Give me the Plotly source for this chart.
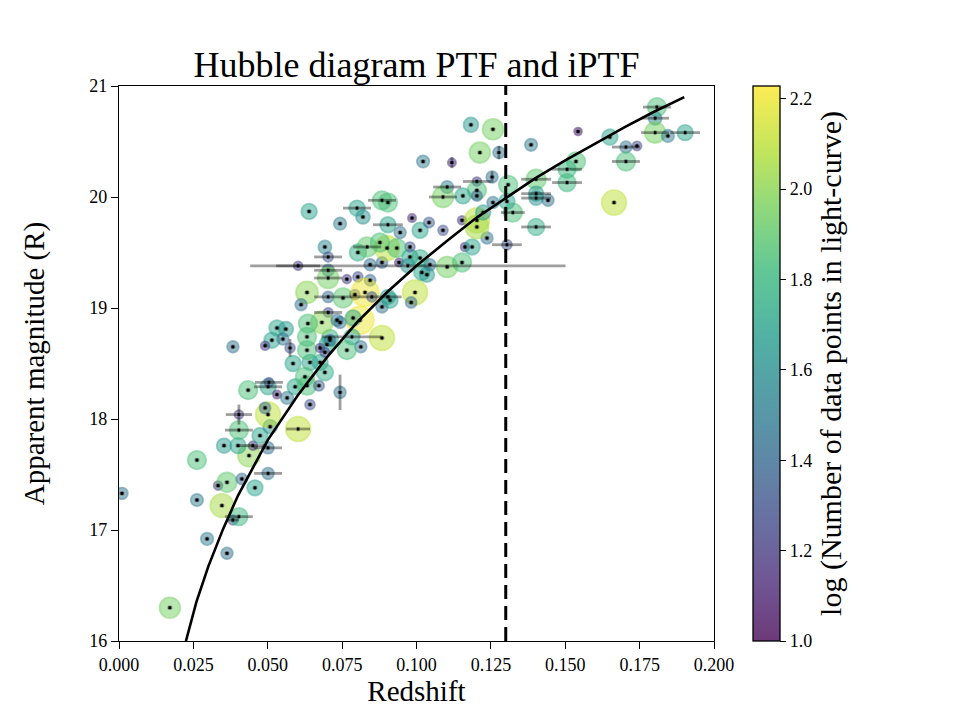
import plotly.graph_objects as go
import plotly.colors as pc

# ---------------- data ----------------
redshift = [
    0.0010, 0.0171, 0.0262, 0.0262, 0.0296, 0.0363, 0.0346, 0.0383, 0.0403, 0.0333,
    0.0363, 0.0413, 0.0457, 0.0501, 0.0437, 0.0353, 0.0400, 0.0403, 0.0450, 0.0501,
    0.0474, 0.0508, 0.0602, 0.0403, 0.0501, 0.0491, 0.0642, 0.0743, 0.0434, 0.0501,
    0.0504, 0.0531, 0.0592, 0.0565, 0.0632, 0.0672, 0.0585, 0.0642, 0.0676, 0.0692,
    0.0625, 0.0383, 0.0531, 0.0561, 0.0514, 0.0551, 0.0491, 0.0575, 0.0632, 0.0632,
    0.0632, 0.0612, 0.0692, 0.0703, 0.0602, 0.0703, 0.0703, 0.0766, 0.0803, 0.0844,
    0.0703, 0.0753, 0.0793, 0.0827, 0.0850, 0.0884, 0.0904, 0.0810, 0.0703, 0.0743,
    0.0787, 0.0783, 0.0884, 0.0813, 0.0766, 0.0699, 0.0676, 0.0709, 0.0682, 0.0635,
    0.0733, 0.0709, 0.0692, 0.0995, 0.0982, 0.0911, 0.0844, 0.0884, 0.0941, 0.0978,
    0.1018, 0.1035, 0.1045, 0.1103, 0.1153, 0.0971, 0.1304, 0.0978, 0.1163, 0.1237,
    0.1187, 0.0901, 0.0877, 0.0934, 0.0803, 0.0834, 0.1012, 0.0639, 0.0743, 0.0800,
    0.0820, 0.0884, 0.0904, 0.0904, 0.0985, 0.1012, 0.1042, 0.0945, 0.1089, 0.1153,
    0.1203, 0.1203, 0.1224, 0.1183, 0.1257, 0.1213, 0.1277, 0.1022, 0.1119, 0.1254,
    0.1203, 0.1103, 0.1089, 0.1203, 0.1156, 0.1203, 0.1257, 0.1308, 0.1324, 0.1304,
    0.1808, 0.1802, 0.1802, 0.1845, 0.1903, 0.1543, 0.1650, 0.1704, 0.1741, 0.1704,
    0.1664, 0.1385, 0.1536, 0.1506, 0.1506, 0.1402, 0.1402, 0.1402, 0.1442, 0.1402,
]
app_mag = [
    17.33, 16.30, 17.63, 17.27, 16.92, 16.79, 17.22, 17.09, 17.12, 17.40,
    17.43, 17.46, 17.38, 17.51, 17.67, 17.76, 17.76, 17.90, 17.76, 17.74,
    17.85, 17.93, 17.91, 18.04, 18.04, 18.10, 18.13, 18.24, 18.26, 18.29,
    18.33, 18.22, 18.29, 18.19, 18.30, 18.30, 18.50, 18.51, 18.51, 18.42,
    18.38, 18.65, 18.82, 18.81, 18.71, 18.72, 18.66, 18.64, 18.74, 18.62,
    19.14, 19.03, 19.55, 19.46, 19.38, 19.34, 19.27, 19.26, 19.28, 19.25,
    19.10, 19.09, 19.12, 19.14, 19.10, 19.01, 19.10, 18.89, 18.96, 18.87,
    18.91, 18.74, 18.73, 18.65, 18.62, 18.67, 18.64, 18.73, 18.87, 18.86,
    18.89, 18.71, 18.60, 19.14, 19.05, 19.07, 19.39, 19.41, 19.41, 19.46,
    19.32, 19.30, 19.39, 19.37, 19.41, 19.38, 19.57, 19.55, 19.55, 19.63,
    19.55, 19.54, 19.59, 19.54, 19.50, 19.55, 19.45, 19.87, 19.76, 19.90,
    19.82, 19.97, 19.95, 19.75, 19.81, 19.70, 19.77, 19.68, 19.70, 19.79,
    19.79, 19.73, 19.86, 20.65, 20.61, 20.40, 20.40, 20.32, 20.31, 20.18,
    20.14, 20.09, 20.00, 20.06, 20.01, 20.01, 19.95, 20.11, 19.86, 19.96,
    20.81, 20.71, 20.58, 20.55, 20.58, 20.59, 20.54, 20.45, 20.46, 20.32,
    19.95, 20.47, 20.32, 20.25, 20.13, 20.16, 20.03, 19.99, 19.97, 19.73,
]
log_npts = [
    1.45, 1.95, 1.85, 1.50, 1.50, 1.45, 2.05, 1.30, 1.80, 1.20,
    1.90, 1.40, 1.70, 1.45, 2.00, 1.65, 1.70, 1.85, 1.20, 1.45,
    1.70, 1.60, 2.10, 1.20, 2.10, 1.40, 1.30, 1.45, 1.85, 1.70,
    1.25, 1.15, 1.70, 1.50, 1.85, 1.35, 1.70, 1.70, 1.70, 1.75,
    1.85, 1.45, 1.70, 1.65, 1.70, 1.45, 1.20, 1.30, 1.85, 1.85,
    2.00, 1.45, 1.55, 1.30, 1.20, 1.45, 1.95, 1.20, 1.30, 1.40,
    1.40, 1.90, 1.30, 2.20, 1.30, 1.45, 1.65, 2.20, 1.25, 1.45,
    1.70, 1.70, 2.10, 1.45, 1.85, 1.70, 1.20, 1.75, 2.00, 1.85,
    1.45, 1.40, 1.25, 2.10, 1.40, 1.70, 1.45, 1.40, 1.15, 1.70,
    1.70, 1.65, 1.45, 1.95, 1.85, 1.60, 1.30, 1.30, 1.20, 1.45,
    1.70, 2.10, 1.85, 1.85, 1.75, 1.90, 1.75, 1.70, 1.50, 1.70,
    1.60, 1.85, 1.85, 1.70, 1.15, 1.70, 1.35, 1.45, 1.30, 1.20,
    2.10, 2.05, 1.65, 1.65, 1.95, 1.95, 1.45, 1.50, 1.15, 1.45,
    1.20, 1.50, 1.95, 1.85, 1.70, 1.35, 1.45, 1.85, 1.85, 1.70,
    1.85, 1.55, 1.95, 1.50, 1.70, 1.10, 1.70, 1.45, 1.25, 1.85,
    2.10, 1.50, 1.85, 1.80, 1.80, 1.90, 1.65, 1.60, 1.45, 1.75,
]
redshift_err = [
    0.0008, 0.0008, 0.0008, 0.0008, 0.0008, 0.0008, 0.0008, 0.0020, 0.0047, 0.0008,
    0.0008, 0.0008, 0.0008, 0.0047, 0.0008, 0.0008, 0.0008, 0.0047, 0.0047, 0.0047,
    0.0008, 0.0008, 0.0040, 0.0044, 0.0008, 0.0008, 0.0008, 0.0008, 0.0008, 0.0047,
    0.0047, 0.0008, 0.0008, 0.0008, 0.0008, 0.0008, 0.0008, 0.0008, 0.0008, 0.0008,
    0.0008, 0.0008, 0.0008, 0.0008, 0.0008, 0.0008, 0.0008, 0.0008, 0.0008, 0.0008,
    0.0008, 0.0008, 0.0008, 0.0047, 0.0074, 0.0047, 0.0047, 0.0008, 0.0008, 0.0008,
    0.0047, 0.0008, 0.0008, 0.0008, 0.0100, 0.0008, 0.0008, 0.0008, 0.0047, 0.0008,
    0.0008, 0.0100, 0.0008, 0.0008, 0.0008, 0.0008, 0.0008, 0.0008, 0.0008, 0.0008,
    0.0008, 0.0008, 0.0008, 0.0008, 0.0008, 0.0008, 0.0008, 0.0008, 0.0008, 0.0008,
    0.0008, 0.0008, 0.0008, 0.0008, 0.0008, 0.0530, 0.0050, 0.0008, 0.0008, 0.0008,
    0.0008, 0.0008, 0.0008, 0.0008, 0.0008, 0.0047, 0.0008, 0.0008, 0.0008, 0.0047,
    0.0008, 0.0047, 0.0008, 0.0050, 0.0008, 0.0008, 0.0008, 0.0008, 0.0008, 0.0008,
    0.0008, 0.0008, 0.0008, 0.0008, 0.0008, 0.0008, 0.0008, 0.0008, 0.0008, 0.0008,
    0.0047, 0.0047, 0.0047, 0.0008, 0.0008, 0.0008, 0.0008, 0.0008, 0.0040, 0.0008,
    0.0047, 0.0047, 0.0047, 0.0008, 0.0050, 0.0008, 0.0008, 0.0047, 0.0008, 0.0047,
    0.0008, 0.0008, 0.0008, 0.0050, 0.0050, 0.0050, 0.0050, 0.0050, 0.0008, 0.0050,
]
app_mag_err = [
    0.02, 0.02, 0.02, 0.02, 0.02, 0.02, 0.02, 0.02, 0.02, 0.02,
    0.02, 0.02, 0.02, 0.02, 0.02, 0.02, 0.02, 0.02, 0.02, 0.02,
    0.02, 0.02, 0.02, 0.09, 0.02, 0.02, 0.02, 0.16, 0.02, 0.02,
    0.02, 0.02, 0.02, 0.02, 0.02, 0.02, 0.02, 0.02, 0.02, 0.02,
    0.02, 0.02, 0.02, 0.02, 0.02, 0.02, 0.02, 0.08, 0.02, 0.02,
    0.02, 0.02, 0.02, 0.02, 0.02, 0.02, 0.02, 0.02, 0.02, 0.02,
    0.02, 0.02, 0.02, 0.02, 0.02, 0.02, 0.02, 0.02, 0.02, 0.02,
    0.02, 0.02, 0.02, 0.02, 0.02, 0.02, 0.02, 0.02, 0.02, 0.02,
    0.02, 0.02, 0.02, 0.02, 0.02, 0.02, 0.02, 0.02, 0.02, 0.02,
    0.02, 0.02, 0.02, 0.02, 0.02, 0.02, 0.02, 0.02, 0.02, 0.02,
    0.02, 0.02, 0.02, 0.02, 0.02, 0.02, 0.02, 0.02, 0.02, 0.02,
    0.02, 0.02, 0.02, 0.02, 0.02, 0.02, 0.02, 0.02, 0.02, 0.02,
    0.02, 0.02, 0.02, 0.02, 0.02, 0.02, 0.06, 0.02, 0.05, 0.05,
    0.02, 0.02, 0.02, 0.02, 0.02, 0.02, 0.02, 0.02, 0.02, 0.02,
    0.02, 0.02, 0.02, 0.02, 0.02, 0.02, 0.02, 0.02, 0.02, 0.02,
    0.02, 0.02, 0.02, 0.02, 0.02, 0.02, 0.02, 0.02, 0.02, 0.02,
]

# Hubble-law model curve
curve_z = [0.0225, 0.026, 0.030, 0.035, 0.040, 0.050, 0.060, 0.070, 0.080, 0.090,
           0.100, 0.110, 0.120, 0.130, 0.140, 0.150, 0.160, 0.170, 0.180, 0.190]
curve_mag = [16.00, 16.35, 16.67, 17.01, 17.31, 17.81, 18.21, 18.56, 18.87, 19.14,
             19.38, 19.60, 19.81, 19.99, 20.17, 20.33, 20.48, 20.63, 20.77, 20.90]

z_cut = [0.13, 0.13]
z_cut_mag = [16, 21]

x_ticks = [0.0, 0.025, 0.05, 0.075, 0.1, 0.125, 0.15, 0.175, 0.2]
x_ticklabels = ["0.000", "0.025", "0.050", "0.075", "0.100", "0.125", "0.150", "0.175", "0.200"]
y_ticks = [16, 17, 18, 19, 20, 21]
y_ticklabels = ["16", "17", "18", "19", "20", "21"]
cb_ticks = [1.0, 1.2, 1.4, 1.6, 1.8, 2.0, 2.2]
cb_ticklabels = ["1.0", "1.2", "1.4", "1.6", "1.8", "2.0", "2.2"]

# ---------------- styling ----------------
CMIN, CMAX = 1.0, 2.228
ALPHA = 0.68
FONT = "Liberation Serif"


def viridis_rgb(v):
    t = min(max((v - CMIN) / (CMAX - CMIN), 0.0), 1.0)
    c = pc.sample_colorscale("Viridis", [t])[0]
    r, g, b = pc.unlabel_rgb(c)
    return r, g, b


def rgba(v, a):
    r, g, b = viridis_rgb(v)
    return f"rgba({r:.0f},{g:.0f},{b:.0f},{a})"


marker_colors = [rgba(v, ALPHA) for v in log_npts]
marker_sizes = [2.2 * (10 ** v) ** 0.5 for v in log_npts]

# colour bar scale: viridis seen through the same transparency over white
cb_scale = []
n = 24
for i in range(n + 1):
    t = i / n
    r, g, b = viridis_rgb(CMIN + t * (CMAX - CMIN))
    a = 0.78
    cb_scale.append([t, f"rgb({r*a+255*(1-a):.0f},{g*a+255*(1-a):.0f},{b*a+255*(1-a):.0f})"])

fig = go.Figure()

# scatter of SNe, coloured and sized by number of light-curve points
fig.add_trace(go.Scatter(
    x=redshift, y=app_mag, mode="markers",
    marker=dict(color=marker_colors, size=marker_sizes,
                line=dict(color=marker_colors, width=1.8)),
    showlegend=False, hoverinfo="skip",
))

# error bars with small black centre points
fig.add_trace(go.Scatter(
    x=redshift, y=app_mag, mode="markers",
    marker=dict(color="black", size=2.6, symbol="square"),
    error_x=dict(type="data", array=redshift_err, color="rgba(0,0,0,0.38)", thickness=2.8, width=0),
    error_y=dict(type="data", array=app_mag_err, color="rgba(0,0,0,0.38)", thickness=2.8, width=0),
    showlegend=False, hoverinfo="skip",
))

# model curve
fig.add_trace(go.Scatter(
    x=curve_z, y=curve_mag, mode="lines",
    line=dict(color="black", width=2.6),
    showlegend=False, hoverinfo="skip",
))

# redshift cut
fig.add_trace(go.Scatter(
    x=z_cut, y=z_cut_mag, mode="lines",
    line=dict(color="black", width=3, dash="14px,7px"),
    showlegend=False, hoverinfo="skip",
))

# colour bar carrier (point is outside the plotted range)
fig.add_trace(go.Scatter(
    x=[0.1], y=[10], mode="markers",
    marker=dict(color=[CMIN], cmin=CMIN, cmax=CMAX, colorscale=cb_scale, size=1,
                showscale=True,
                colorbar=dict(
                    x=(753 - 119) / 595, xanchor="left", xref="paper",
                    y=0.5, yanchor="middle", len=1.0, lenmode="fraction",
                    thickness=27, thicknessmode="pixels",
                    xpad=0, ypad=0,
                    outlinewidth=1.3, outlinecolor="black",
                    ticks="outside", ticklen=6, tickwidth=1.3, tickcolor="black",
                    tickvals=cb_ticks, ticktext=cb_ticklabels,
                    tickfont=dict(family=FONT, size=18, color="black"),
                    title=dict(text="log (Number of data points in light-curve)", side="right",
                               font=dict(family=FONT, size=30, color="black")),
                )),
    showlegend=False, hoverinfo="skip",
))

axis_common = dict(
    showgrid=False, zeroline=False, showline=True, mirror=True,
    linecolor="black", linewidth=1.3, ticks="outside", ticklen=7, tickwidth=1.3,
    tickcolor="black", tickfont=dict(family=FONT, size=18, color="black"),
)

fig.update_layout(
    width=960, height=720,
    margin=dict(l=119, r=246, t=86, b=79),
    paper_bgcolor="white", plot_bgcolor="white",
    font=dict(family=FONT, color="black"),
    title=dict(text="Hubble diagram PTF and iPTF", x=(119 + 714) / 2 / 960, xanchor="center",
               y=1 - 64 / 720, yanchor="middle", yref="container",
               font=dict(family=FONT, size=36, color="black")),
    xaxis=dict(range=[0, 0.2], tickvals=x_ticks, ticktext=x_ticklabels,
               title=dict(text="Redshift", font=dict(family=FONT, size=29), standoff=6),
               **axis_common),
    yaxis=dict(range=[16, 21], tickvals=y_ticks, ticktext=y_ticklabels,
               title=dict(text="Apparent magnitude (R)", font=dict(family=FONT, size=29), standoff=36),
               **axis_common),
)

fig.write_html("out.html")
